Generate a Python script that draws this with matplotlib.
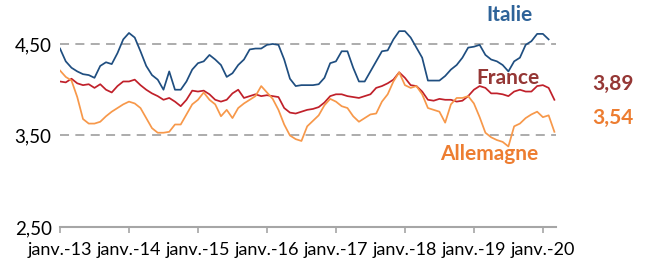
import numpy as np
import matplotlib
matplotlib.use('Agg')
import matplotlib.pyplot as plt

# Données mensuelles (janv. 2013 -> mars 2020)
italie = [4.45, 4.31, 4.24, 4.20, 4.17, 4.16, 4.13, 4.26, 4.30, 4.28, 4.40, 4.55,
          4.62, 4.57, 4.42, 4.26, 4.16, 4.11, 4.00, 4.20, 4.00, 4.00, 4.09, 4.22,
          4.29, 4.31, 4.38, 4.33, 4.27, 4.14, 4.18, 4.27, 4.33, 4.44, 4.45, 4.45,
          4.49, 4.50, 4.49, 4.33, 4.12, 4.04, 4.05, 4.05, 4.05, 4.06, 4.13, 4.29,
          4.31, 4.42, 4.42, 4.24, 4.09, 4.09, 4.20, 4.31, 4.42, 4.43, 4.55, 4.64,
          4.64, 4.57, 4.46, 4.35, 4.10, 4.10, 4.10, 4.15, 4.22, 4.27, 4.35, 4.46,
          4.47, 4.49, 4.38, 4.33, 4.31, 4.27, 4.20, 4.31, 4.35, 4.49, 4.53, 4.61,
          4.61, 4.55]
france = [4.09, 4.08, 4.12, 4.07, 4.05, 4.06, 4.02, 4.06, 4.00, 3.97, 4.04, 4.09,
          4.09, 4.11, 4.05, 4.00, 3.96, 3.93, 3.89, 3.91, 3.87, 3.82, 3.89, 3.99,
          3.98, 3.99, 3.95, 3.89, 3.87, 3.89, 3.96, 4.00, 3.91, 3.93, 3.95, 3.93,
          3.94, 3.93, 3.92, 3.80, 3.75, 3.74, 3.76, 3.78, 3.79, 3.81, 3.86, 3.93,
          3.95, 3.95, 3.93, 3.92, 3.91, 3.93, 3.95, 4.02, 4.04, 4.07, 4.11, 4.19,
          4.13, 4.05, 4.04, 3.98, 3.89, 3.88, 3.90, 3.89, 3.89, 3.87, 3.88, 3.93,
          4.00, 4.04, 4.02, 3.96, 3.96, 3.95, 3.93, 3.98, 4.00, 3.98, 3.98, 4.04,
          4.05, 4.02, 3.89]
allemagne = [4.21, 4.14, 4.10, 3.92, 3.68, 3.63, 3.63, 3.65, 3.71, 3.76, 3.80, 3.84,
             3.87, 3.85, 3.80, 3.69, 3.58, 3.53, 3.53, 3.54, 3.62, 3.62, 3.73, 3.84,
             3.89, 3.97, 3.89, 3.84, 3.71, 3.78, 3.69, 3.80, 3.85, 3.89, 3.93, 4.04,
             3.97, 3.90, 3.78, 3.62, 3.50, 3.46, 3.44, 3.60, 3.66, 3.72, 3.83, 3.90,
             3.87, 3.82, 3.80, 3.71, 3.65, 3.69, 3.73, 3.74, 3.87, 3.95, 4.09, 4.19,
             4.05, 4.02, 4.04, 3.95, 3.80, 3.78, 3.76, 3.64, 3.84, 3.91, 3.91, 3.93,
             3.85, 3.70, 3.53, 3.48, 3.45, 3.43, 3.38, 3.60, 3.63, 3.69, 3.73, 3.76,
             3.70, 3.72, 3.54]
annees = [2013, 2014, 2015, 2016, 2017, 2018, 2019, 2020]
etiquettes_x = ['janv.-13', 'janv.-14', 'janv.-15', 'janv.-16',
                'janv.-17', 'janv.-18', 'janv.-19', 'janv.-20']
graduations_y = [2.5, 3.5, 4.5]

plt.rcParams['font.family'] = ['Lato', 'DejaVu Sans']

fig = plt.figure(figsize=(6.51, 2.59), dpi=100)
ax = fig.add_axes([60 / 651, 32 / 259, 496 / 651, 210.5 / 259])

def mois(serie):
    return 2013 + np.arange(len(serie)) / 12

ax.plot(mois(italie), italie, color='#1F4E80', lw=1.25)
ax.plot(mois(france), france, color='#C0202A', lw=1.25)
ax.plot(mois(allemagne), allemagne, color='#F7984A', lw=1.25)

for v in graduations_y[1:]:
    ax.axhline(v, color='#A6A6A6', lw=1.3, dashes=(5, 3.5), zorder=0)

ax.set_xlim(2013, 2020.19)
ax.set_ylim(2.5, 4.8)
ax.set_xticks(annees)
ax.set_xticklabels(etiquettes_x)
ax.set_yticks(graduations_y)
ax.set_yticklabels([f'{v:.2f}'.replace('.', ',') for v in graduations_y])

for s in ['top', 'right', 'left']:
    ax.spines[s].set_visible(False)
ax.spines['bottom'].set_color('#A6A6A6')
ax.spines['bottom'].set_linewidth(1.5)
ax.tick_params(axis='x', length=4, width=1.2, color='#A6A6A6', labelsize=13, pad=7)
ax.tick_params(axis='y', length=0, labelsize=13.5, pad=6)

ax.text(2019.51, 4.82, 'Italie', color='#2E6399', fontsize=15, fontweight='bold',
        ha='center', va='center', clip_on=False)
ax.text(2019.49, 4.13, 'France', color='#953735', fontsize=15, fontweight='bold',
        ha='center', va='center', clip_on=False)
ax.text(2019.22, 3.30, 'Allemagne', color='#ED7D31', fontsize=15, fontweight='bold',
        ha='center', va='center', clip_on=False)
ax.text(2021.01, 4.06, '3,89', color='#953735', fontsize=15, fontweight='bold',
        ha='center', va='center', clip_on=False)
ax.text(2021.01, 3.69, '3,54', color='#ED7D31', fontsize=15, fontweight='bold',
        ha='center', va='center', clip_on=False)

fig.savefig('out.png', dpi=100)
